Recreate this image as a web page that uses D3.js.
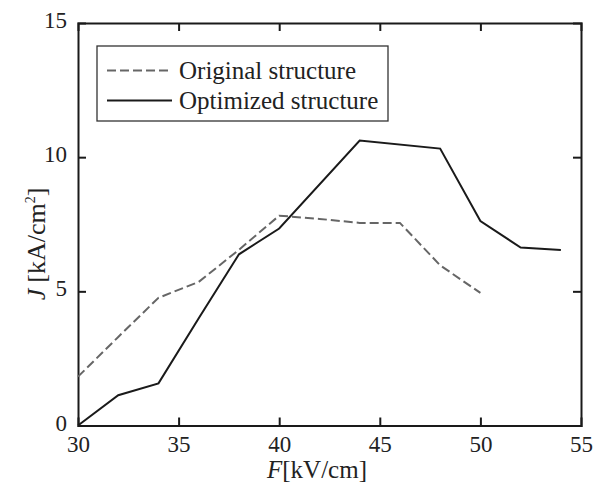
<!DOCTYPE html>
<html>
<head>
<meta charset="utf-8">
<script src="https://cdn.jsdelivr.net/npm/d3@7"></script>
<style>
  body { margin: 0; background: #fff; }
  svg text { font-family: "Liberation Serif", "Times New Roman", serif !important; fill: #222; }
</style>
</head>
<body>
<div id="chart"></div>
<script>
// data
const fieldOriginal = [30, 32, 34, 36, 38, 40, 42, 44, 46, 48, 50];
const currentOriginal = [1.82, 3.3, 4.76, 5.35, 6.55, 7.82, 7.7, 7.55, 7.55, 5.97, 4.94];
const fieldOptimized = [30, 32, 34, 36, 38, 40, 44, 48, 50, 52, 54];
const currentOptimized = [0, 1.13, 1.57, 4.0, 6.38, 7.34, 10.62, 10.32, 7.62, 6.63, 6.54];
const xTicks = [30, 35, 40, 45, 50, 55];
const yTicks = [0, 5, 10, 15];
const seriesNames = ["Original structure", "Optimized structure"];

const width = 603, height = 489;
const margin = { top: 23, right: 22, bottom: 63.5, left: 78 };
const w = width - margin.left - margin.right;
const h = height - margin.top - margin.bottom;

const svg = d3.select("#chart").append("svg")
    .attr("width", width)
    .attr("height", height);

const g = svg.append("g")
    .attr("transform", `translate(${margin.left},${margin.top})`);

const x = d3.scaleLinear().domain([30, 55]).range([0, w]);
const y = d3.scaleLinear().domain([0, 15]).range([h, 0]);

// axes with inward ticks on all four sides
const tickLen = 8;
const axBottom = g.append("g")
    .attr("transform", `translate(0,${h})`)
    .call(d3.axisBottom(x).tickValues(xTicks).tickSize(-tickLen).tickPadding(8));
const axLeft = g.append("g")
    .call(d3.axisLeft(y).tickValues(yTicks).tickSize(-tickLen).tickPadding(11));
const axTop = g.append("g")
    .call(d3.axisTop(x).tickValues(xTicks).tickSize(-tickLen).tickFormat(""));
const axRight = g.append("g")
    .attr("transform", `translate(${w},0)`)
    .call(d3.axisRight(y).tickValues(yTicks).tickSize(-tickLen).tickFormat(""));

[axBottom, axLeft, axTop, axRight].forEach(a => {
    a.attr("font-family", "Liberation Serif").attr("font-size", 23);
    a.selectAll("path, line").attr("stroke", "#1a1a1a").attr("stroke-width", 2);
    a.selectAll("text").attr("fill", "#222");
});
axBottom.selectAll(".tick text").attr("dy", "0.8em");
axLeft.selectAll(".tick text").attr("dy", "0.2em");
// no tick marks sitting on the corners
axTop.selectAll(".tick").filter(d => d === 30 || d === 55).remove();
axRight.selectAll(".tick").filter(d => d === 0 || d === 15).remove();
axBottom.selectAll(".tick line").filter(d => d === 30 || d === 55).remove();
axLeft.selectAll(".tick line").filter(d => d === 0 || d === 15).remove();

const line = d3.line().x(d => x(d[0])).y(d => y(d[1]));

g.append("path")
    .datum(d3.zip(fieldOriginal, currentOriginal))
    .attr("fill", "none")
    .attr("stroke", "#666")
    .attr("stroke-width", 2)
    .attr("stroke-dasharray", "9,4")
    .attr("d", line);

g.append("path")
    .datum(d3.zip(fieldOptimized, currentOptimized))
    .attr("fill", "none")
    .attr("stroke", "#1a1a1a")
    .attr("stroke-width", 2)
    .attr("d", line);

// legend
const legend = svg.append("g").attr("transform", "translate(97,46)");
legend.append("rect")
    .attr("width", 291).attr("height", 75)
    .attr("fill", "#fff").attr("stroke", "#333").attr("stroke-width", 1.3);
seriesNames.forEach((name, i) => {
    const yy = 24.5 + i * 30;
    legend.append("line")
        .attr("x1", 10).attr("x2", 75).attr("y1", yy).attr("y2", yy)
        .attr("stroke", i === 0 ? "#666" : "#1a1a1a")
        .attr("stroke-width", 2)
        .attr("stroke-dasharray", i === 0 ? "9,4" : null);
    legend.append("text")
        .attr("x", 82).attr("y", yy + 8)
        .style("font-size", "25px")
        .text(name);
});

// axis titles
svg.append("text")
    .attr("x", 317).attr("y", 478)
    .attr("text-anchor", "middle")
    .style("font-size", "25px")
    .html('<tspan font-style="italic">F</tspan>[kV/cm]');

svg.append("text")
    .attr("transform", "translate(45,244) rotate(-90)")
    .attr("text-anchor", "middle")
    .style("font-size", "26px")
    .html('<tspan font-style="italic">J</tspan><tspan dx="6">[kA/cm</tspan><tspan dy="-10" font-size="14px">2</tspan><tspan dy="10">]</tspan>');
</script>
</body>
</html>
